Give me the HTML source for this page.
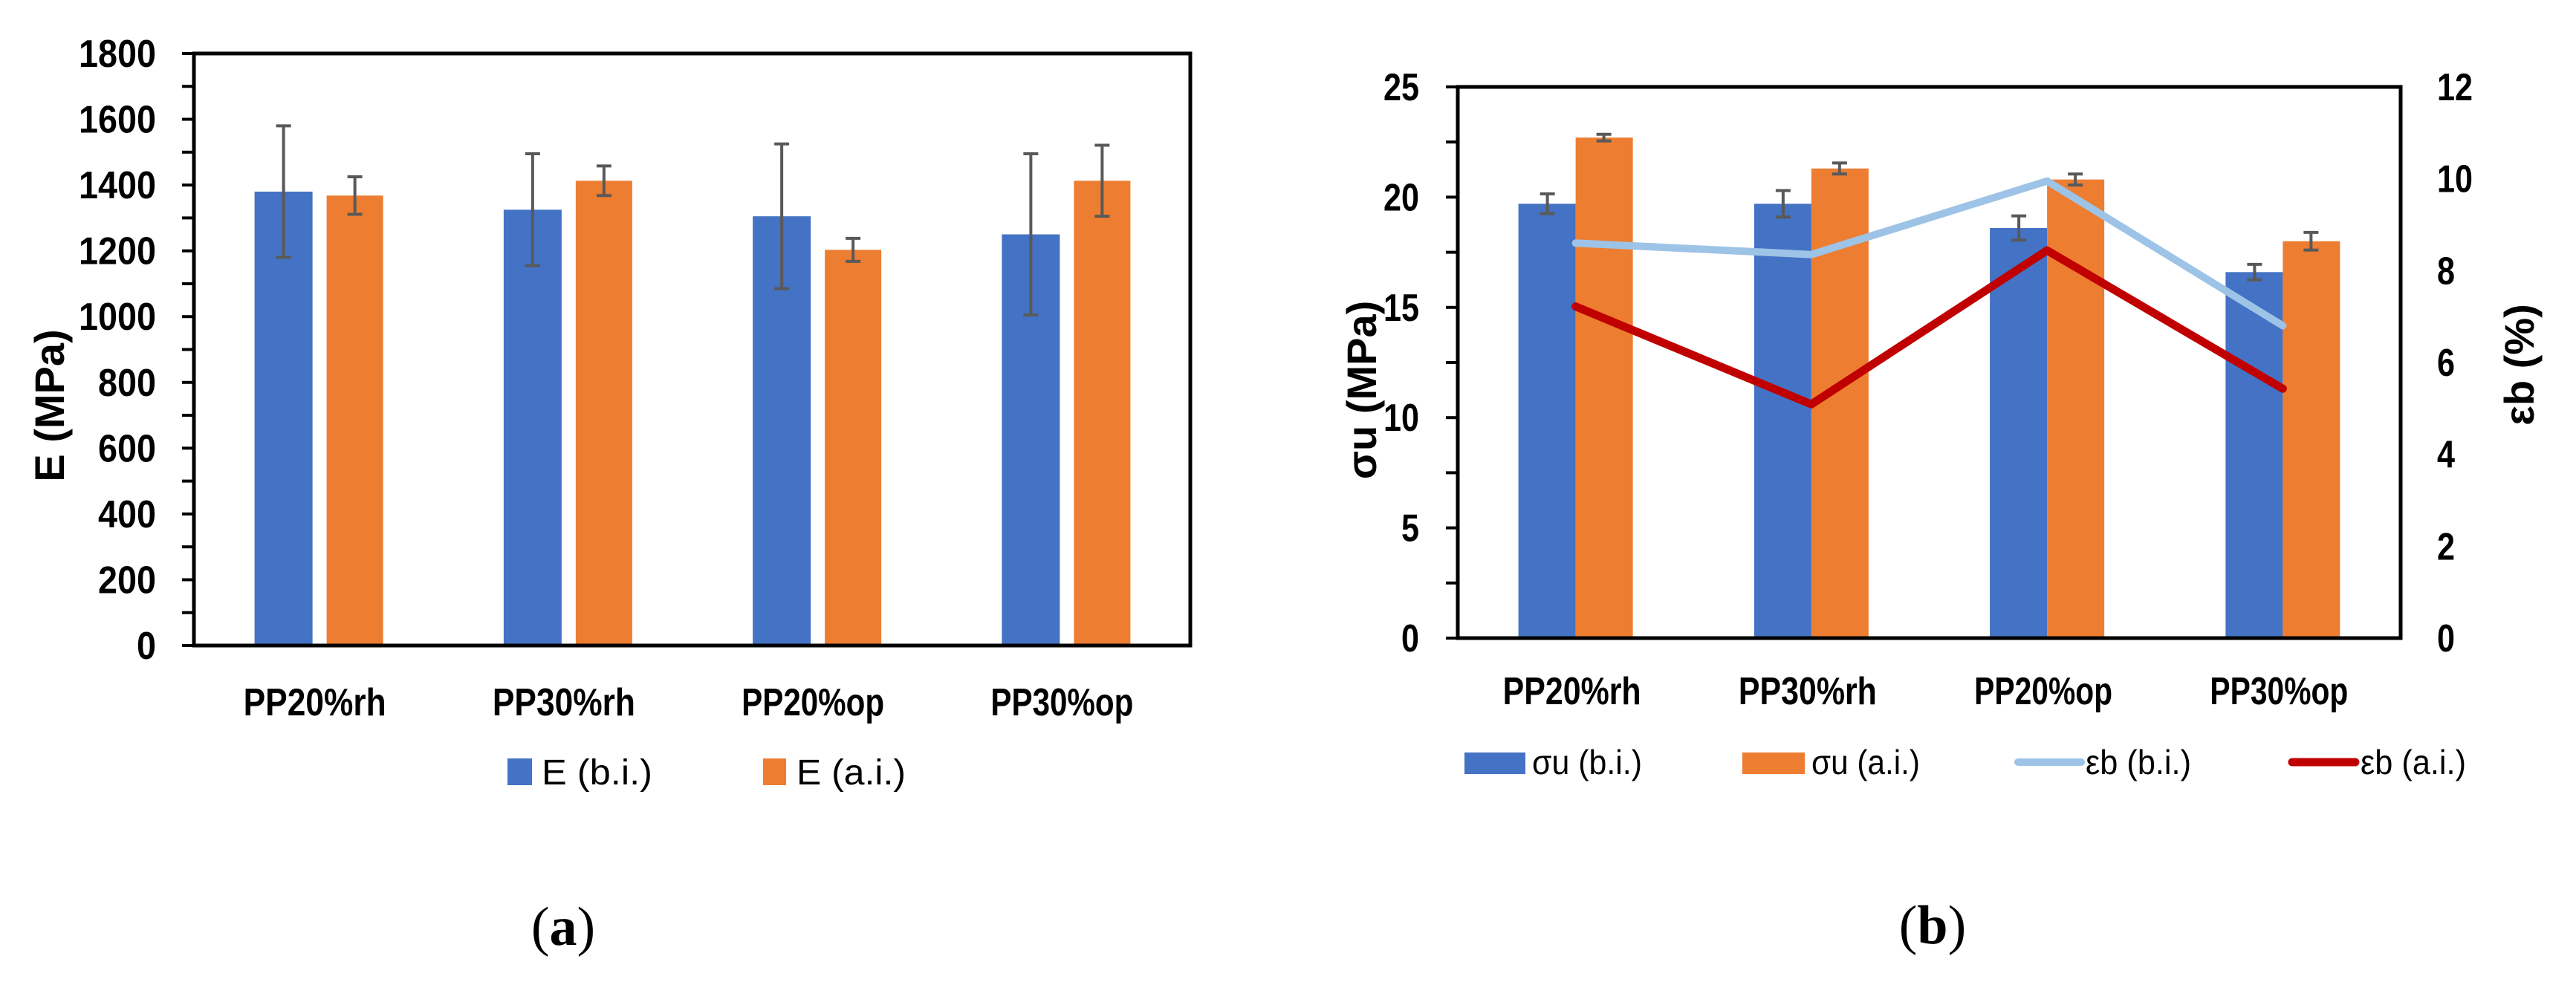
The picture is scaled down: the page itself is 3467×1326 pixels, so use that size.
<!DOCTYPE html>
<html><head><meta charset="utf-8"><style>
html,body{margin:0;padding:0;background:#fff;}
svg{display:block;}
text{font-family:"Liberation Sans",sans-serif;}
</style></head><body>
<svg id="s" width="3467" height="1326" viewBox="0 0 3467 1326" xmlns="http://www.w3.org/2000/svg">
<g id="ga"></g>
<g id="gb"></g>
<text x="758" y="1272" style="font-family:'Liberation Serif',serif" font-size="74" text-anchor="middle">(<tspan font-weight="bold">a</tspan>)</text>
<text x="2601" y="1270" style="font-family:'Liberation Serif',serif" font-size="74" text-anchor="middle">(<tspan font-weight="bold">b</tspan>)</text>
</svg>
<script>
const categories = ["PP20%rh","PP30%rh","PP20%op","PP30%op"];
const aBlue = [1380,1325,1305,1250];
const aBlueErr = [200,170,220,245];
const aOrange = [1368,1413,1203,1413];
const aOrangeErr = [57,45,35,108];
const aTicks = [0,200,400,600,800,1000,1200,1400,1600,1800];
const bBlue = [19.7,19.7,18.6,16.6];
const bBlueErr = [0.45,0.6,0.55,0.35];
const bOrange = [22.7,21.3,20.8,18.0];
const bOrangeErr = [0.15,0.25,0.25,0.4];
const bEpsBI = [8.6,8.35,9.95,6.8];
const bEpsAI = [7.22,5.09,8.44,5.43];
const bLeftTicks = [0,5,10,15,20,25];
const bRightTicks = [0,2,4,6,8,10,12];

const NS="http://www.w3.org/2000/svg";
function mk(parent,tag,attrs,txt){const e=document.createElementNS(NS,tag);for(const k in attrs)e.setAttribute(k,attrs[k]);if(txt!==undefined)e.textContent=txt;parent.appendChild(e);return e;}
const BLUE="#4472C4",ORANGE="#ED7D31",ERR="#595959";

// ---- Chart A ----
const ga=document.getElementById('ga');
const A={l:261,r:1602,t:72,b:869,max:1800};
const ay=v=>A.b-(v/A.max)*(A.b-A.t);
const acx=i=>A.l+(A.r-A.l)/4*(i+0.5);
for(let v=0;v<=1800;v+=100){
  const t=mk(ga,'line',{x1:A.l-16,x2:A.l,y1:ay(v),y2:ay(v),stroke:'#000','stroke-width':4});
  
}
aTicks.forEach(v=>{
  const s=String(v);
  const t=mk(ga,'text',{x:210,y:ay(v)+18,'font-size':52,'font-weight':'bold','text-anchor':'end',textLength:s.length*26,lengthAdjust:'spacingAndGlyphs'},s);
  
});
function errBar(g,x,yTop,yBot){
  const e=mk(g,'g',{stroke:ERR,'stroke-width':4});
  
  mk(e,'line',{x1:x,x2:x,y1:yTop,y2:yBot});
  mk(e,'line',{x1:x-10,x2:x+10,y1:yTop,y2:yTop});
  mk(e,'line',{x1:x-10,x2:x+10,y1:yBot,y2:yBot});
}
categories.forEach((c,i)=>{
  const cx=acx(i);
  const b=mk(ga,'rect',{x:cx-86,y:ay(aBlue[i]),width:78,height:A.b-ay(aBlue[i]),fill:BLUE});
  
  const o=mk(ga,'rect',{x:cx+11,y:ay(aOrange[i]),width:76,height:A.b-ay(aOrange[i]),fill:ORANGE});
  
  errBar(ga,cx-47,ay(aBlue[i]+aBlueErr[i]),ay(aBlue[i]-aBlueErr[i]));
  errBar(ga,cx+49,ay(aOrange[i]+aOrangeErr[i]),ay(aOrange[i]-aOrangeErr[i]));
  const t=mk(ga,'text',{x:cx-5,y:963,'font-size':52,'font-weight':'bold','text-anchor':'middle',textLength:192,lengthAdjust:'spacingAndGlyphs'},c);
  
});
const af=mk(ga,'path',{d:`M${A.l} ${A.t}H${A.r}V${A.b}H${A.l}Z`,fill:'none',stroke:'#000','stroke-width':5});

const ayt=mk(ga,'text',{x:0,y:0,'font-size':56,'font-weight':'bold','text-anchor':'middle',transform:'translate(86,546) rotate(-90)'},'E (MPa)');

let le=mk(ga,'rect',{x:683,y:1021,width:33,height:36,fill:BLUE});

le=mk(ga,'text',{x:729,y:1056,'font-size':48,textLength:149,lengthAdjust:'spacingAndGlyphs'},'E  (b.i.)');

le=mk(ga,'rect',{x:1027,y:1021,width:31,height:36,fill:ORANGE});

le=mk(ga,'text',{x:1072,y:1056,'font-size':48,textLength:147,lengthAdjust:'spacingAndGlyphs'},'E  (a.i.)');


// ---- Chart B ----
const gb=document.getElementById('gb');
const B={l:1962,r:3231,t:117,b:859,lmax:25,rmax:12};
const byl=v=>B.b-(v/B.lmax)*(B.b-B.t);
const byr=v=>B.b-(v/B.rmax)*(B.b-B.t);
const bcx=i=>B.l+(B.r-B.l)/4*(i+0.5);
for(let v=0;v<=25;v+=2.5){
  const t=mk(gb,'line',{x1:B.l-16,x2:B.l,y1:byl(v),y2:byl(v),stroke:'#000','stroke-width':4});
  
}
bLeftTicks.forEach(v=>{
  const s=String(v);
  const t=mk(gb,'text',{x:1910,y:byl(v)+18,'font-size':52,'font-weight':'bold','text-anchor':'end',textLength:s.length*24,lengthAdjust:'spacingAndGlyphs'},s);
  
});
bRightTicks.forEach(v=>{
  const s=String(v);
  const t=mk(gb,'text',{x:3280,y:byr(v)+18,'font-size':52,'font-weight':'bold',textLength:s.length*24,lengthAdjust:'spacingAndGlyphs'},s);
  
});
categories.forEach((c,i)=>{
  const cx=bcx(i);
  const b=mk(gb,'rect',{x:cx-77,y:byl(bBlue[i]),width:77,height:B.b-byl(bBlue[i]),fill:BLUE});
  
  const o=mk(gb,'rect',{x:cx,y:byl(bOrange[i]),width:77,height:B.b-byl(bOrange[i]),fill:ORANGE});
  
  errBar(gb,cx-38,byl(bBlue[i]+bBlueErr[i]),byl(bBlue[i]-bBlueErr[i]));
  errBar(gb,cx+38,byl(bOrange[i]+bOrangeErr[i]),byl(bOrange[i]-bOrangeErr[i]));
  const t=mk(gb,'text',{x:cx-5,y:948,'font-size':52,'font-weight':'bold','text-anchor':'middle',textLength:186,lengthAdjust:'spacingAndGlyphs'},c);
  
});
let l1=mk(gb,'polyline',{points:bEpsBI.map((v,i)=>bcx(i)+','+byr(v)).join(' '),fill:'none',stroke:'#9DC3E6','stroke-width':10,'stroke-linecap':'round','stroke-linejoin':'round'});

let l2=mk(gb,'polyline',{points:bEpsAI.map((v,i)=>bcx(i)+','+byr(v)).join(' '),fill:'none',stroke:'#C00000','stroke-width':11,'stroke-linecap':'round','stroke-linejoin':'round'});

const bf=mk(gb,'path',{d:`M${B.l} ${B.t}H${B.r}V${B.b}H${B.l}Z`,fill:'none',stroke:'#000','stroke-width':5});

let t1=mk(gb,'text',{x:0,y:0,'font-size':56,'font-weight':'bold','text-anchor':'middle',transform:'translate(1852,525) rotate(-90)'},'σu (MPa)');

let t2=mk(gb,'text',{x:0,y:0,'font-size':56,'font-weight':'bold','text-anchor':'middle',transform:'translate(3410,491) rotate(-90)'},'εb (%)');

let g;
g=mk(gb,'rect',{x:1971,y:1013,width:82,height:29,fill:BLUE});

g=mk(gb,'text',{x:2062,y:1042,'font-size':46,textLength:148,lengthAdjust:'spacingAndGlyphs'},'σu (b.i.)');

g=mk(gb,'rect',{x:2345,y:1013,width:84,height:29,fill:ORANGE});

g=mk(gb,'text',{x:2438,y:1042,'font-size':46,textLength:146,lengthAdjust:'spacingAndGlyphs'},'σu (a.i.)');

g=mk(gb,'line',{x1:2716,x2:2801,y1:1026,y2:1026,stroke:'#9DC3E6','stroke-width':10,'stroke-linecap':'round'});

g=mk(gb,'text',{x:2807,y:1042,'font-size':46,textLength:142,lengthAdjust:'spacingAndGlyphs'},'εb (b.i.)');

g=mk(gb,'line',{x1:3085,x2:3170,y1:1026,y2:1026,stroke:'#C00000','stroke-width':11,'stroke-linecap':'round'});

g=mk(gb,'text',{x:3177,y:1042,'font-size':46,textLength:142,lengthAdjust:'spacingAndGlyphs'},'εb (a.i.)');

</script>
</body></html>
